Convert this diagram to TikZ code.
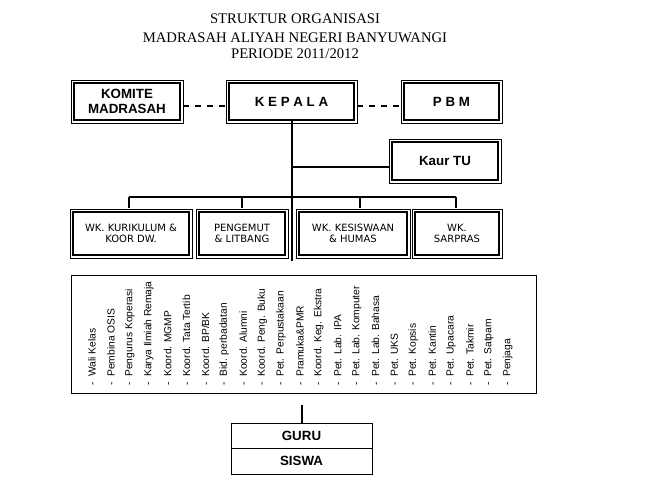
\documentclass[tikz,border=0pt]{standalone}
\usepackage{fontspec}
\setmainfont{Liberation Serif}
\newfontfamily\arial{Liberation Sans}
\newfontfamily\tahoma{DejaVu Sans}
\usetikzlibrary{positioning}

\tikzset{
  jabatan/.style={draw, line width=1.4pt, outer sep=0pt, inner sep=0pt, align=center,
    font=\arial\bfseries\fontsize{10}{11.5}\selectfont},
  wakil/.style={jabatan, font=\tahoma\fontsize{7.5}{8.2}\selectfont},
  bingkai/.style={line width=0.6pt},
  garis/.style={line width=1.5pt},
  tugas/.style={rotate=90, anchor=west, inner sep=0pt, font=\arial\fontsize{7.7}{9}\selectfont},
  kotak/.style={draw, line width=0.6pt, outer sep=0pt, inner sep=0pt,
    font=\arial\bfseries\fontsize{10}{11.5}\selectfont},
}

\begin{document}
\begin{tikzpicture}[x=0.75pt, y=-0.75pt]
    \useasboundingbox (0,0) rectangle (646,485);

    % judul
    \node[font=\fontsize{11}{13}\selectfont] (judul 1) at (295,19) {STRUKTUR ORGANISASI};
    \node[font=\fontsize{11}{13}\selectfont] (judul 2) at (295,38) {MADRASAH ALIYAH NEGERI BANYUWANGI};
    \node[font=\fontsize{11}{13}\selectfont] (judul 3) at (295,54) {PERIODE 2011/2012};

    % pimpinan
    \node[jabatan, minimum width=93.75pt, minimum height=27.75pt] (kepala) at (291.5,101.5) {K E P A L A};
    \node[jabatan, minimum width=79.5pt, minimum height=27.75pt, left=36.75pt of kepala] (komite) {KOMITE\\MADRASAH};
    \node[jabatan, minimum width=71.25pt, minimum height=27.75pt, right=37.5pt of kepala] (pbm) {P B M};
    \node[jabatan, minimum width=79.5pt, minimum height=28.5pt] (kaur tu) at (445,161) {Kaur TU};

    % wakil kepala
    \node[wakil, minimum width=87pt, minimum height=32.25pt] (kurikulum) at (131,233.5) {WK. KURIKULUM \&\\KOOR DW.};
    \node[wakil, minimum width=64.5pt, minimum height=32.25pt, right=7.5pt of kurikulum] (pengemut) {PENGEMUT\\\& LITBANG};
    \node[wakil, minimum width=81pt, minimum height=32.25pt, right=10.5pt of pengemut] (kesiswaan) {WK. KESISWAAN\\\& HUMAS};
    \node[wakil, minimum width=63pt, minimum height=32.25pt, right=6pt of kesiswaan] (sarpras) {WK.\\SARPRAS};

    % bingkai luar
    \foreach \n in {kepala, komite, pbm, kaur tu, kurikulum, pengemut, kesiswaan, sarpras}
        \draw[bingkai] ([shift={(-3,3)}]\n.south west) rectangle ([shift={(3,-3)}]\n.north east);

    % garis koordinasi
    \draw[garis, dash pattern=on 4.5pt off 4.5pt] ([shift={(3,4.5)}]komite.east) -- ([shift={(-3,4.5)}]kepala.west);
    \draw[garis, dash pattern=on 4.5pt off 4.5pt] ([shift={(3,4.5)}]kepala.east) -- ([shift={(-3,4.5)}]pbm.west);

    % garis komando
    \coordinate (ujung) at (292,261);
    \coordinate (cabang tu) at (292,167);
    \draw[garis] (kepala.south) -- (kepala.south |- ujung);
    \draw[garis, shorten >=2.25pt] (cabang tu) -- (cabang tu -| kaur tu.west);
    \coordinate (bus kiri) at (129,197);
    \coordinate (bus kanan) at (456,197);
    \draw[garis] (bus kiri) -- (bus kanan);
    \foreach \x [count=\i] in {129,242,360,456} {
        \coordinate (turun \i) at (\x,197);
        \draw[garis, shorten >=3pt] (turun \i) -- (turun \i |- kurikulum.north);
    }

    % tugas tambahan
    \node[kotak, minimum width=348.75pt, minimum height=88.5pt] (tugas) at (303.5,334) {};
    \foreach \t [count=\i from 0] in {Wali Kelas, Pembina OSIS, Pengurus Koperasi, Karya Ilmiah Remaja,
        Koord. MGMP, Koord. Tata Tertib, Koord. BP/BK, Bid. perbadatan, Koord. Alumni,
        Koord. Peng. Buku, Pet. Perpustakaan, Pramuka\&PMR, Koord. Keg. Ekstra, Pet. Lab. IPA,
        Pet. Lab. Komputer, Pet. Lab. Bahasa, Pet. UKS, Pet. Kopsis, Pet. Kantin, Pet. Upacara,
        Pet. Takmir, Pet. Satpam, Penjaga}
        \node[tugas] (tugas \i) at ({92+18.9*\i},386) {-\ \ \t};

    % guru dan siswa
    \node[kotak, minimum width=105.75pt, minimum height=18.75pt] (guru) at (301.5,435.5) {GURU};
    \node[kotak, minimum width=105.75pt, minimum height=19.5pt, below=0pt of guru] (siswa) {SISWA};
    \coordinate (atas guru) at (302,405);
    \draw[garis] (atas guru) -- (atas guru |- guru.north);
\end{tikzpicture}
\end{document}
